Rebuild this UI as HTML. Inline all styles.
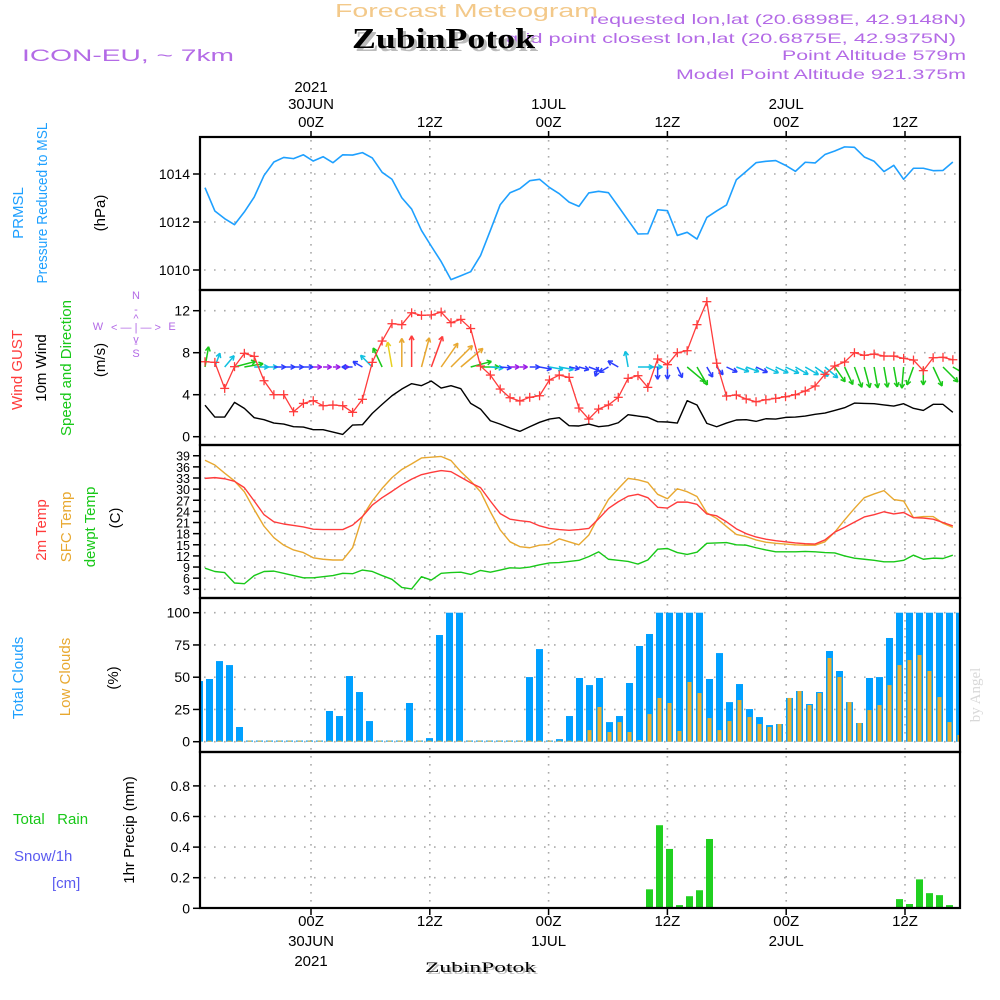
<!DOCTYPE html>
<html><head><meta charset="utf-8"><title>Forecast Meteogram ZubinPotok</title>
<style>
html,body{margin:0;padding:0;background:#fff;}
svg{display:block;font-family:"Liberation Sans",sans-serif;}
</style></head><body>
<svg id="chart" width="1000" height="1000" viewBox="0 0 1000 1000" xmlns="http://www.w3.org/2000/svg">
<rect x="0" y="0" width="1000" height="1000" fill="#fff"/>
<!-- header -->
<text x="335" y="17" textLength="263" lengthAdjust="spacingAndGlyphs" font-size="18" fill="#f3c98a">Forecast Meteogram</text>
<g fill="#b36ae6" font-size="14">
<text x="506" y="43" textLength="450" lengthAdjust="spacingAndGlyphs">grid point closest lon,lat (20.6875E, 42.9375N)</text>
<text x="590" y="24" textLength="376" lengthAdjust="spacingAndGlyphs">requested lon,lat (20.6898E, 42.9148N)</text>
<text x="782" y="60" textLength="184" lengthAdjust="spacingAndGlyphs">Point Altitude 579m</text>
<text x="676" y="79" textLength="290" lengthAdjust="spacingAndGlyphs">Model Point Altitude 921.375m</text>
</g>
<text x="355" y="51" textLength="183" lengthAdjust="spacingAndGlyphs" font-family="Liberation Serif, serif" font-weight="bold" font-size="29" fill="#bbb">ZubinPotok</text>
<text x="352" y="48" textLength="183" lengthAdjust="spacingAndGlyphs" font-family="Liberation Serif, serif" font-weight="bold" font-size="29" fill="#000">ZubinPotok</text>
<text x="22" y="61" textLength="212" lengthAdjust="spacingAndGlyphs" font-size="17" fill="#b36ae6">ICON-EU, ~ 7km</text>
<text x="980" y="695" font-family="Liberation Serif, serif" font-size="15" fill="#d8d8d8" transform="rotate(-90 980 695)" text-anchor="middle">by Angel</text>

<!-- left labels -->
<g font-size="15" text-anchor="middle">
<text transform="translate(23,213) rotate(-90)" fill="#1ea0ff">PRMSL</text>
<text transform="translate(47,203) rotate(-90)" fill="#1ea0ff" textLength="161" lengthAdjust="spacingAndGlyphs">Pressure Reduced to MSL</text>
<text transform="translate(105,213) rotate(-90)" fill="#000">(hPa)</text>
<text transform="translate(22,370) rotate(-90)" fill="#ff3b3b">Wind GUST</text>
<text transform="translate(46,368) rotate(-90)" fill="#000">10m Wind</text>
<text transform="translate(71,368) rotate(-90)" fill="#18c818">Speed and Direction</text>
<text transform="translate(105,360) rotate(-90)" fill="#000">(m/s)</text>
<text transform="translate(46,530) rotate(-90)" fill="#ff3b3b">2m Temp</text>
<text transform="translate(71,527) rotate(-90)" fill="#e8a830">SFC Temp</text>
<text transform="translate(95,527) rotate(-90)" fill="#18c818">dewpt Temp</text>
<text transform="translate(120,518) rotate(-90)" fill="#000">(C)</text>
<text transform="translate(23,678) rotate(-90)" fill="#1ea0ff">Total Clouds</text>
<text transform="translate(70,677) rotate(-90)" fill="#e8a830">Low Clouds</text>
<text transform="translate(118,678) rotate(-90)" fill="#000">(%)</text>
<text transform="translate(134,830) rotate(-90)" fill="#000">1hr Precip (mm)</text>
</g>
<g font-size="15">
<text x="13" y="824" fill="#18c818">Total&#160;&#160;&#160;Rain</text>
<text x="14" y="861" fill="#5a5af0">Snow/1h</text>
<text x="52" y="888" fill="#5a5af0">[cm]</text>
</g>
<g fill="#b36ae6" font-size="11" text-anchor="middle">
<text x="136" y="299">N</text><text x="136" y="313">-</text><text x="136" y="322">^</text>
<text x="98" y="330">W</text><text x="136" y="331">&lt; — | — &gt;</text><text x="172" y="330">E</text>
<text x="136" y="343">v</text><text x="136" y="347">-</text><text x="136" y="357">S</text>
</g>
<text x="427" y="974" textLength="111" lengthAdjust="spacingAndGlyphs" font-family="Liberation Serif, serif" font-size="15" fill="#bbb">ZubinPotok</text>
<text x="425" y="972" textLength="111" lengthAdjust="spacingAndGlyphs" font-family="Liberation Serif, serif" font-size="15" fill="#000">ZubinPotok</text>
<g id="plot"></g>
</svg>
<script>
const pressure=[1013.43,1012.46,1012.14,1011.89,1012.42,1013.04,1013.94,1014.5,1014.69,1014.64,
1014.8,1014.54,1014.72,1014.47,1014.8,1014.79,1014.89,1014.67,1014.07,1013.78,
1013.01,1012.54,1011.65,1010.99,1010.35,1009.6,1009.76,1009.93,1010.6,1011.65,
1012.72,1013.22,1013.39,1013.72,1013.78,1013.44,1013.18,1012.83,1012.65,1013.21,
1013.28,1013.22,1012.65,1012.07,1011.5,1011.51,1012.51,1012.47,1011.44,1011.57,
1011.29,1012.19,1012.46,1012.71,1013.76,1014.11,1014.47,1014.53,1014.56,1014.36,
1014.11,1014.49,1014.46,1014.81,1014.96,1015.13,1015.11,1014.71,1014.53,1014.1,
1014.36,1013.78,1014.24,1014.24,1014.14,1014.15,1014.5];
const wind10=[3.0,1.87,1.87,3.27,2.7,1.81,1.62,1.3,1.2,0.95,
0.92,0.67,0.67,0.44,0.22,1.11,1.14,2.22,3.08,3.9,
4.54,5.05,4.86,5.3,4.63,4.86,4.57,3.17,2.63,1.52,
1.2,0.83,0.51,0.95,1.37,1.68,1.81,1.05,1.02,1.2,
0.95,1.05,1.33,2.1,1.97,1.84,1.43,1.4,1.3,3.43,
3.02,1.27,0.95,1.3,1.59,1.62,1.46,1.71,1.68,1.84,
1.87,1.97,2.13,2.25,2.5,2.76,3.2,3.17,3.14,3.02,
2.92,3.14,2.7,2.5,3.08,3.08,2.32];
const windDir=[10,20,40,75,80,90,90,90,90,90,
90,90,90,90,90,270,300,315,335,350,
0,0,15,20,35,45,50,75,90,95,
95,90,90,90,100,100,100,100,105,110,
200,240,300,350,90,90,180,180,155,130,
150,150,140,115,110,110,115,115,115,115,
120,120,125,130,145,155,160,165,170,170,
170,185,200,180,155,135,120];
const gust=[7.14,7.08,4.6,6.67,7.94,7.65,5.33,4.0,4.0,2.38,
3.17,3.43,2.95,3.02,2.95,2.32,3.56,7.08,9.11,10.76,
10.67,11.8,11.56,11.59,11.87,10.86,11.17,10.3,6.73,5.87,
4.54,3.71,3.4,3.75,3.9,5.4,5.87,5.65,2.73,1.68,
2.63,3.02,3.75,5.56,5.81,4.7,7.4,6.86,8.0,8.19,
10.67,12.86,7.0,3.87,3.97,3.59,3.33,3.52,3.65,3.81,
4.0,4.35,4.83,5.94,6.73,7.11,8.0,7.75,7.87,7.68,
7.68,7.46,7.3,6.29,7.52,7.56,7.33];
const t2m=[32.9,33.1,32.8,32.1,30.4,26.8,23.1,21.2,20.6,20.2,
19.8,19.2,19.1,19.1,19.1,20.3,22.6,25.7,27.7,29.4,
31.2,32.7,33.9,34.5,35.0,34.7,33.2,31.7,30.4,26.8,
23.4,21.9,21.5,21.2,20.1,19.4,19.1,18.9,19.1,19.4,
22.0,24.8,26.6,28.1,28.6,27.7,25.1,24.9,26.5,26.5,
25.9,23.3,22.8,21.2,19.3,18.0,17.1,16.5,16.1,15.8,
15.5,15.3,15.2,16.3,18.4,19.7,21.1,22.5,23.1,23.9,
23.3,23.7,22.3,22.2,21.9,21.0,20.1];
const tsfc=[37.8,36.5,34.3,32.2,29.3,24.5,20.0,16.9,14.9,13.6,
12.9,11.5,11.1,10.9,10.9,14.2,22.6,26.8,30.2,33.1,
35.3,36.8,38.4,38.6,38.8,37.7,34.7,32.2,29.3,23.9,
19.0,15.8,14.5,14.2,14.9,15.1,16.6,15.8,15.0,17.6,
22.6,27.2,30.1,32.9,32.5,31.8,28.6,27.4,30.1,29.3,
28.0,23.6,22.1,19.9,17.8,17.2,16.3,15.7,15.4,15.2,
15.0,14.9,14.9,15.8,18.4,21.7,24.8,27.7,28.7,29.6,
27.2,26.8,22.3,22.6,22.6,20.8,19.7];
const tdew=[8.7,7.8,7.5,4.7,4.5,6.7,7.8,7.9,7.3,6.7,
6.1,6.1,6.4,6.7,7.3,7.2,8.2,7.8,6.7,5.7,
3.5,3.1,6.4,5.5,7.3,7.5,7.6,7.0,8.1,7.6,
8.2,8.8,8.7,9.0,9.6,10.1,10.2,10.5,10.8,11.8,
13.1,11.1,10.8,10.5,9.8,10.9,13.8,14.0,12.9,12.4,
13.0,15.4,15.5,15.6,15.0,14.9,14.2,13.6,13.1,13.1,
13.1,13.2,13.1,12.9,12.8,12.0,11.4,11.1,10.8,10.4,
10.4,10.8,12.2,11.1,11.4,11.3,12.2];
const cloudTotal=[47,48.6,62.5,59.4,11.4,0,0,0,0,0,
0,0,0,23.8,19.9,50.9,38.5,16,0,0,
0,30,0,2.8,82.7,100,100,0,0,0,
0,0,0,50.1,71.8,0,2,19.9,49.4,43.9,
49.4,15.2,19.9,45.5,74.2,83.5,100,100,100,100,
100,48.6,68.7,30.7,44.7,25.3,19.1,12.9,13.7,33.9,
39.3,29.2,38.5,70.3,54.8,30.7,14.5,49.4,50.1,80.4,
100,100,100,100,100,100,100];
const cloudLow=[0,0,0,0,0,0,0,0,0,0,
0,0,0,0,0,0,0,0,0,0,
0,0,0,0,0,0,0,0,0,0,
0,0,0,0,0,0,0,0,0,9.0,
26.9,7.5,15.2,7.5,1.3,21.4,33.9,30,8.3,46.3,
37.7,18.3,9.0,16.0,32.3,19.1,13.7,11.4,13.7,33.9,
39.3,28.4,37.7,64.9,50.1,30.7,14.5,24.5,28.4,43.9,
59.4,63.3,67.2,54.8,34.6,15.2,5.2];
const precip=[0,0,0,0,0,0,0,0,0,0,
0,0,0,0,0,0,0,0,0,0,
0,0,0,0,0,0,0,0,0,0,
0,0,0,0,0,0,0,0,0,0,
0,0,0,0,0,0.124,0.543,0.388,0.021,0.079,
0.118,0.453,0,0,0,0,0,0,0,0,
0,0,0,0,0,0,0,0,0,0,
0.06,0.028,0.189,0.099,0.086,0.021,0];
const pressTicks=[1010,1012,1014];
const windTicks=[0,4,8,12];
const tempTicks=[3,6,9,12,15,18,21,24,27,30,33,36,39];
const cloudTicks=[0,25,50,75,100];
const precipTicks=[0,0.2,0.4,0.6,0.8];
const timeHours=[0,12,24,36,48,60];
const timeLabels=["00Z","12Z","00Z","12Z","00Z","12Z"];
const dateLabels=["30JUN","","1JUL","","2JUL",""];
const yearLabels=["2021","","","","",""];

const NS="http://www.w3.org/2000/svg";
const plot=document.getElementById('plot');
const X0=200,X1=960;
function el(tag,attrs,parent){const e=document.createElementNS(NS,tag);for(const k in attrs)e.setAttribute(k,attrs[k]);(parent||plot).appendChild(e);return e;}
const xLine=i=>205+i*9.84;
const xBar=i=>199.5+i*10;
const xTime=h=>311+h*9.9;
const yP=v=>174-(v-1014)*24;
const yW=v=>436.7-v*10.5;
const yT=v=>589.3-(v-3)*3.71;
const yC=v=>741.7-v*1.29;
const yR=v=>908.3-v*153;
const panels=[[137,290,'pressure-panel'],[290,445,'wind-panel'],[445,598,'temperature-panel'],[598,752,'cloud-panel'],[752,908,'precip-panel']];

const defs=el('defs',{});
const cp=el('clipPath',{id:'clip'},defs);el('rect',{x:X0,y:137,width:X1-X0,height:771},cp);

const grid=el('g',{stroke:'#aaa','stroke-width':1.6,'stroke-dasharray':'1.6 8.4',fill:'none'});


function hgrid(ticks,fy){ticks.forEach(t=>{const y=fy(t);el('line',{x1:X0+4,x2:X1,y1:y,y2:y},grid);});}
hgrid(pressTicks,yP);hgrid(windTicks,yW);hgrid(tempTicks,yT);hgrid(cloudTicks,yC);hgrid(precipTicks.slice(1),yR);
timeHours.forEach(h=>{const x=xTime(h);el('line',{x1:x,x2:x,y1:140,y2:906,'stroke-dasharray':'1.6 6.4'},grid);});

function yTicks(ticks,fy,fmt,size,name){const g=el('g',{'font-size':size,'text-anchor':'end',fill:'#000'});


ticks.forEach(t=>{const y=fy(t);el('line',{x1:193,x2:200,y1:y,y2:y,stroke:'#000','stroke-width':1.5},g);const tx=el('text',{x:190,y:y+5},g);tx.textContent=fmt(t);});}
yTicks(pressTicks,yP,t=>t,14,'pressure-y-ticks');
yTicks(windTicks,yW,t=>t,14,'wind-y-ticks');
yTicks(tempTicks,yT,t=>t,12.5,'temp-y-ticks');
yTicks(cloudTicks,yC,t=>t,14,'cloud-y-ticks');
yTicks(precipTicks,yR,t=>t===0?'0':t.toFixed(1),14,'precip-y-ticks');

const tl=el('g',{'font-size':15,'text-anchor':'middle',fill:'#000'});


timeHours.forEach((h,k)=>{const x=xTime(h);
 let t=el('text',{x:x,y:127},tl);t.textContent=timeLabels[k];
 if(dateLabels[k]){t=el('text',{x:x,y:109},tl);t.textContent=dateLabels[k];}
 if(yearLabels[k]){t=el('text',{x:x,y:92},tl);t.textContent=yearLabels[k];}
 t=el('text',{x:x,y:926},tl);t.textContent=timeLabels[k];
 if(dateLabels[k]){t=el('text',{x:x,y:946},tl);t.textContent=dateLabels[k];}
 if(yearLabels[k]){t=el('text',{x:x,y:966},tl);t.textContent=yearLabels[k];}
 el('line',{x1:x,x2:x,y1:908,y2:915,stroke:'#000','stroke-width':1.5},tl);
 el('line',{x1:x,x2:x,y1:131,y2:137,stroke:'#000','stroke-width':1.5},tl);
});

const data=el('g',{'clip-path':'url(#clip)'});
function poly(vals,fy,color,w,name){const p=el('polyline',{points:vals.map((v,i)=>xLine(i)+','+fy(v)).join(' '),fill:'none',stroke:color,'stroke-width':w,'stroke-linejoin':'round'},data);

}
poly(pressure,yP,'#1ea0ff',1.6,'pressure-line');
function wcol(s){if(s<0.9)return '#9a1ae6';if(s<1.5)return '#2a3cff';if(s<2.3)return '#10c0e0';if(s<3.5)return '#18c818';if(s<4)return '#e8d020';if(s<5)return '#e8a830';return '#ff3b3b';}
const ay=367;
wind10.forEach((s,i)=>{const x=xLine(i),d=windDir[i]*Math.PI/180,L=5+5.2*s;
 const dx=Math.sin(d),dy=-Math.cos(d),tx=x+dx*L,ty=ay+dy*L,c=wcol(s);
 const g=el('g',{stroke:c,'stroke-width':1.5,fill:'none'},data);
 
 
 el('line',{x1:x,y1:ay,x2:tx,y2:ty},g);
 const h=5,a=0.5;
 [a,-a].forEach(s2=>{const ang=Math.atan2(dy,dx)+Math.PI+s2;el('line',{x1:tx,y1:ty,x2:tx+Math.cos(ang)*h,y2:ty+Math.sin(ang)*h},g);});
});
poly(wind10,yW,'#000',1.4,'wind10-line');
poly(gust,yW,'#ff3b3b',1.3,'gust-line');
gust.forEach((v,i)=>{const x=xLine(i),y=yW(v);const g=el('g',{stroke:'#ff3b3b','stroke-width':1.3},data);
 
 
 el('line',{x1:x-4.5,x2:x+4.5,y1:y,y2:y},g);el('line',{x1:x,x2:x,y1:y-4.5,y2:y+4.5},g);});
poly(tdew,yT,'#18c818',1.4,'dewpoint-line');
poly(tsfc,yT,'#e8a830',1.4,'sfc-temp-line');
poly(t2m,yT,'#ff3b3b',1.4,'t2m-line');
cloudTotal.forEach((v,i)=>{const x=xBar(i),h=Math.max(v*1.29,1.2);
 const r=el('rect',{x:x-3.5,y:yC(0)-h,width:7,height:h,fill:'#00a0ff'},data);
 
 });
cloudLow.forEach((v,i)=>{const x=xBar(i),h=Math.max(v*1.29,1);
 const r=el('rect',{x:x-2,y:yC(0)-h,width:4,height:h,fill:'#e8b030'},data);
 
 });
el('line',{x1:X0,x2:X1,y1:yR(0)-0.5,y2:yR(0)-0.5,stroke:'#000','stroke-width':1.2,'stroke-dasharray':'4 2'},data);
precip.forEach((v,i)=>{if(v<=0)return;const x=xBar(i),h=v*153;
 const r=el('rect',{x:x-3.5,y:yR(0)-h,width:7,height:h,fill:'#20d020'},data);
 
 });
panels.forEach(p=>{const r=el('rect',{x:X0,y:p[0],width:X1-X0,height:p[1]-p[0],fill:'none',stroke:'#000','stroke-width':2.2});
 
 });
</script>
</body></html>
